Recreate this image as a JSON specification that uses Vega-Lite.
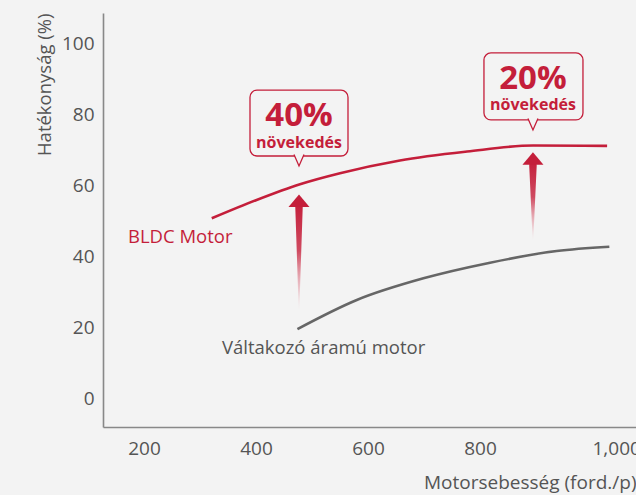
{
  "$schema": "https://vega.github.io/schema/vega-lite/v6.json",
  "width": 533,
  "height": 414,
  "autosize": {"type": "none"},
  "padding": {"left": 103, "top": 13, "right": 0, "bottom": 68},
  "background": "#f3f3f3",
  "config": {
    "view": {"stroke": null},
    "font": "Open Sans"
  },
  "datasets": {
    "bldc": [
      {"speed": 321, "eff": 50.9},
      {"speed": 400, "eff": 56.0},
      {"speed": 478.6, "eff": 60.5},
      {"speed": 550, "eff": 63.6},
      {"speed": 657, "eff": 67.2},
      {"speed": 777, "eff": 69.7},
      {"speed": 895, "eff": 71.4},
      {"speed": 1027, "eff": 71.3}
    ],
    "ac": [
      {"speed": 474, "eff": 19.7},
      {"speed": 580, "eff": 27.9},
      {"speed": 699, "eff": 34.0},
      {"speed": 818, "eff": 38.4},
      {"speed": 937, "eff": 41.7},
      {"speed": 1031, "eff": 42.9}
    ],
    "shafts": [
      {"arrow": 1, "ord": 1, "speed": 476.8, "eff": 54.3, "w": 7.5},
      {"arrow": 1, "ord": 2, "speed": 476.8, "eff": 25.1, "w": 0.6},
      {"arrow": 2, "ord": 1, "speed": 894.6, "eff": 65.8, "w": 7.5},
      {"arrow": 2, "ord": 2, "speed": 894.6, "eff": 44.8, "w": 0.6}
    ],
    "heads": [
      {"speed": 476.8, "eff": 57.6},
      {"speed": 894.6, "eff": 69.5}
    ],
    "boxes": [
      {"x1": 389.3, "x2": 564.3, "y1": 68.45, "y2": 87.0, "px": 476.8, "pct": "40%", "pctY": 76.85, "subY": 70.7, "sub": "növekedés"},
      {"x1": 807.1, "x2": 983.9, "y1": 78.6, "y2": 97.5, "px": 894.6, "pct": "20%", "pctY": 87.3, "subY": 81.4, "sub": "növekedés"}
    ],
    "labels": [
      {"speed": 171.4, "eff": 45.6, "text": "BLDC Motor", "series": "bldc"},
      {"speed": 339.3, "eff": 14.4, "text": "Váltakozó áramú motor", "series": "ac"}
    ]
  },
  "layer": [
    {
      "data": {"name": "bldc"},
      "mark": {"type": "line", "color": "#c41e3a", "strokeWidth": 2.6, "interpolate": "monotone", "clip": false},
      "encoding": {
        "x": {
          "field": "speed", "type": "quantitative",
          "scale": {"domain": [126.8, 1078.6], "nice": false, "zero": false},
          "axis": {
            "values": [200, 400, 600, 800, 1000],
            "format": ",d",
            "title": "Motorsebesség (ford./p)",
            "titleAnchor": "end",
            "titleFontSize": 19,
            "titleFontWeight": "normal",
            "titleColor": "#555555",
            "titlePadding": 15,
            "labelFontSize": 19,
            "labelColor": "#555555",
            "labelPadding": 12,
            "labelAlign": {"condition": {"test": "datum.value == 1000", "value": "left"}, "value": "center"},
            "ticks": false,
            "grid": false,
            "domainColor": "#888888",
            "domainWidth": 1.6,
            "labelFlush": false,
            "labelOverlap": false
          }
        },
        "y": {
          "field": "eff", "type": "quantitative",
          "scale": {"domain": [-7.89, 108.73], "nice": false, "zero": false},
          "axis": {
            "values": [0, 20, 40, 60, 80, 100],
            "title": "Hatékonyság (%)",
            "titleAnchor": "end",
            "titleFontSize": 18.5,
            "titleFontWeight": "normal",
            "titleColor": "#555555",
            "titlePadding": 7,
            "labelFontSize": 19,
            "labelColor": "#555555",
            "labelPadding": 9,
            "ticks": false,
            "grid": false,
            "domainColor": "#888888",
            "domainWidth": 1.6,
            "labelFlush": false
          }
        }
      }
    },
    {
      "data": {"name": "ac"},
      "mark": {"type": "line", "color": "#666666", "strokeWidth": 2.6, "interpolate": "monotone"},
      "encoding": {
        "x": {"field": "speed", "type": "quantitative"},
        "y": {"field": "eff", "type": "quantitative"}
      }
    },
    {
      "data": {"name": "shafts"},
      "mark": {
        "type": "trail",
        "fill": {"gradient": "linear", "x1": 0, "y1": 0, "x2": 0, "y2": 1,
          "stops": [
            {"offset": 0, "color": "#c41e3a"},
            {"offset": 0.45, "color": "#cf4a60"},
            {"offset": 1, "color": "rgba(230,150,160,0)"}
          ]}
      },
      "encoding": {
        "x": {"field": "speed", "type": "quantitative"},
        "y": {"field": "eff", "type": "quantitative"},
        "detail": {"field": "arrow", "type": "nominal"},
        "order": {"field": "ord", "type": "quantitative"},
        "size": {"field": "w", "type": "quantitative", "scale": null}
      }
    },
    {
      "data": {"name": "heads"},
      "mark": {"type": "point", "shape": "M 0 0 L 1 1.2 L -1 1.2 Z", "size": 441, "filled": true, "fill": "#c41e3a", "strokeWidth": 0, "opacity": 1},
      "encoding": {
        "x": {"field": "speed", "type": "quantitative"},
        "y": {"field": "eff", "type": "quantitative"}
      }
    },
    {
      "data": {"name": "boxes"},
      "mark": {"type": "rect", "fill": "#f3f3f3", "stroke": "#c41e3a", "strokeWidth": 1.3, "cornerRadius": 7},
      "encoding": {
        "x": {"field": "x1", "type": "quantitative"},
        "x2": {"field": "x2"},
        "y": {"field": "y1", "type": "quantitative"},
        "y2": {"field": "y2"}
      }
    },
    {
      "data": {"name": "boxes"},
      "mark": {"type": "point", "shape": "M -1 -0.3 L 0 2 L 1 -0.3", "size": 100, "fill": "#f3f3f3", "stroke": "#c41e3a", "strokeWidth": 1.3, "opacity": 1},
      "encoding": {
        "x": {"field": "px", "type": "quantitative"},
        "y": {"field": "y1", "type": "quantitative"}
      }
    },
    {
      "data": {"name": "boxes"},
      "mark": {"type": "text", "font": "Open Sans", "fontSize": 33, "fontWeight": "bold", "color": "#c41e3a", "align": "center", "baseline": "alphabetic"},
      "encoding": {
        "x": {"field": "px", "type": "quantitative"},
        "y": {"field": "pctY", "type": "quantitative"},
        "text": {"field": "pct"}
      }
    },
    {
      "data": {"name": "boxes"},
      "mark": {"type": "text", "font": "Open Sans", "fontSize": 16, "fontWeight": "bold", "color": "#c41e3a", "align": "center", "baseline": "alphabetic"},
      "encoding": {
        "x": {"field": "px", "type": "quantitative"},
        "y": {"field": "subY", "type": "quantitative"},
        "text": {"field": "sub"}
      }
    },
    {
      "data": {"name": "labels"},
      "mark": {"type": "text", "font": "Open Sans", "fontSize": 18.5, "align": "left", "baseline": "middle"},
      "encoding": {
        "x": {"field": "speed", "type": "quantitative"},
        "y": {"field": "eff", "type": "quantitative"},
        "text": {"field": "text"},
        "color": {"field": "series", "type": "nominal", "scale": {"domain": ["bldc", "ac"], "range": ["#c41e3a", "#555555"]}, "legend": null}
      }
    }
  ]
}
